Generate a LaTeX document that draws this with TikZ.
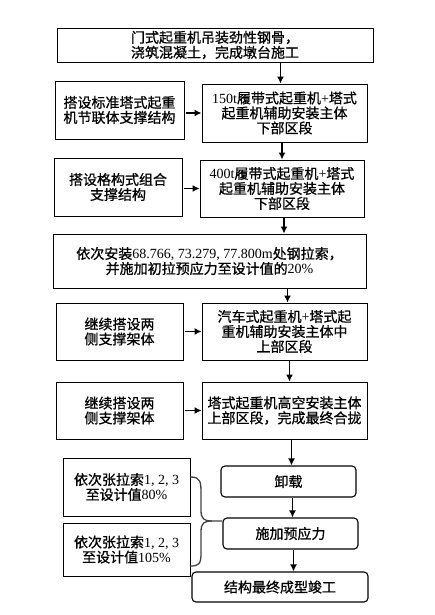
\documentclass[tikz,border=0pt]{standalone}
\usepackage{fontspec}
\setmainfont{Liberation Serif}
\newfontfamily\cjk[FakeBold=0.8]{Noto Sans CJK SC}
\usetikzlibrary{arrows.meta}
\newcommand{\lat}[1]{{\rmfamily #1}}
\tikzset{
	stepbox/.style={draw, line width=0.9pt, align=center, inner sep=0pt,
		font=\cjk\fontsize{14}{15}\selectfont},
	endbox/.style={stepbox, rounded corners=4pt, line width=1.1pt},
	flow/.style={->, line width=1.4pt},
}
\begin{document}
\begin{tikzpicture}[x=1pt, y=-1pt, >={Latex[length=7pt,width=7pt]}]
		\useasboundingbox (0,0) rectangle (435,615);
		% main column
		\node[stepbox, minimum width=316pt, minimum height=34pt] (start) at (215,45)
			{门式起重机吊装劲性钢骨，\\浇筑混凝土，完成墩台施工};
		\node[stepbox, minimum width=165pt, minimum height=58pt] (low1) at (284.5,113)
			{\lat{150t}履带式起重机\lat{+}塔式\\起重机辅助安装主体\\下部区段};
		\node[stepbox, minimum width=164pt, minimum height=57pt] (low2) at (282,188.5)
			{\lat{400t}履带式起重机\lat{+}塔式\\起重机辅助安装主体\\下部区段};
		\node[stepbox, minimum width=313pt, minimum height=54pt] (cable) at (209.5,261)
			{依次安装\lat{68.766, 73.279, 77.800m}处钢拉索，\\并施加初拉预应力至设计值的\lat{20\%}};
		\node[stepbox, minimum width=165pt, minimum height=57pt] (mid) at (284.5,331.5)
			{汽车式起重机\lat{+}塔式起\\重机辅助安装主体中\\上部区段};
		\node[stepbox, minimum width=165pt, minimum height=57pt] (close) at (284.5,410.5)
			{塔式起重机高空安装主体\\上部区段，完成最终合拢};
		\node[endbox, minimum width=135pt, minimum height=31pt] (unload) at (288.5,481.5) {卸载};
		\node[endbox, minimum width=135pt, minimum height=31pt] (prestress) at (290.5,533.5) {施加预应力};
		\node[endbox, minimum width=176pt, minimum height=30pt] (finish) at (280,587) {结构最终成型竣工};
		% supports
		\node[stepbox, minimum width=129pt, minimum height=58pt] (sup1) at (119.5,110)
			{搭设标准塔式起重\\机节联体支撑结构};
		\node[stepbox, minimum width=128pt, minimum height=58pt] (sup2) at (118,187)
			{搭设格构式组合\\支撑结构};
		\node[stepbox, minimum width=127pt, minimum height=57pt] (sup3) at (119.5,331.5)
			{继续搭设两\\侧支撑架体};
		\node[stepbox, minimum width=127pt, minimum height=57pt] (sup4) at (119.5,410.5)
			{继续搭设两\\侧支撑架体};
		% tensioning
		\node[stepbox, minimum width=127pt, minimum height=58pt] (ten1) at (126.5,487)
			{依次张拉索\lat{1, 2, 3}\\至设计值\lat{80\%}};
		\node[stepbox, minimum width=127pt, minimum height=53pt] (ten2) at (126.5,549.5)
			{依次张拉索\lat{1, 2, 3}\\至设计值\lat{105\%}};
		% arrows
		\draw[flow] ([xshift=-4pt]start.south -| low1.north) -- ([xshift=-4pt]low1.north);
		\draw[flow] (low1.south -| low2.north) -- (low2.north);
		\draw[flow] ([xshift=2pt]low2.south) -- ([xshift=2pt]low2.south |- cable.north);
		\draw[flow] ([xshift=3pt]cable.south -| mid.north) -- ([xshift=3pt]mid.north);
		\draw[flow] ([xshift=5pt]mid.south) -- ([xshift=5pt]close.north);
		\draw[flow] ([xshift=7pt]close.south) -- ([xshift=7pt]close.south |- unload.north);
		\draw[flow] ([xshift=4pt]unload.south) -- ([xshift=4pt]unload.south |- prestress.north);
		\draw[flow] ([xshift=3pt]prestress.south) -- ([xshift=3pt]prestress.south |- finish.north);
		\foreach \s/\t in {sup1/low1, sup2/low2, sup3/mid, sup4/close}
			\draw[flow] ([xshift=2pt]\s.east |- \t.west) -- (\t.west);
		% brace
		\draw[line width=1.3pt, black!75] (ten1.east |- 0,477) .. controls (201,477) and (201,482) .. (201,495)
			-- (201,510) .. controls (201,519) and (204,521) .. (212,521) -- (prestress.west |- 0,521);
		\draw[line width=1.3pt, black!75] (212,521) .. controls (204,521) and (201,523) .. (201,532)
			-- (201,553) .. controls (201,564) and (199,566) .. (ten2.east |- 0,566);
		\end{tikzpicture}
\end{document}
